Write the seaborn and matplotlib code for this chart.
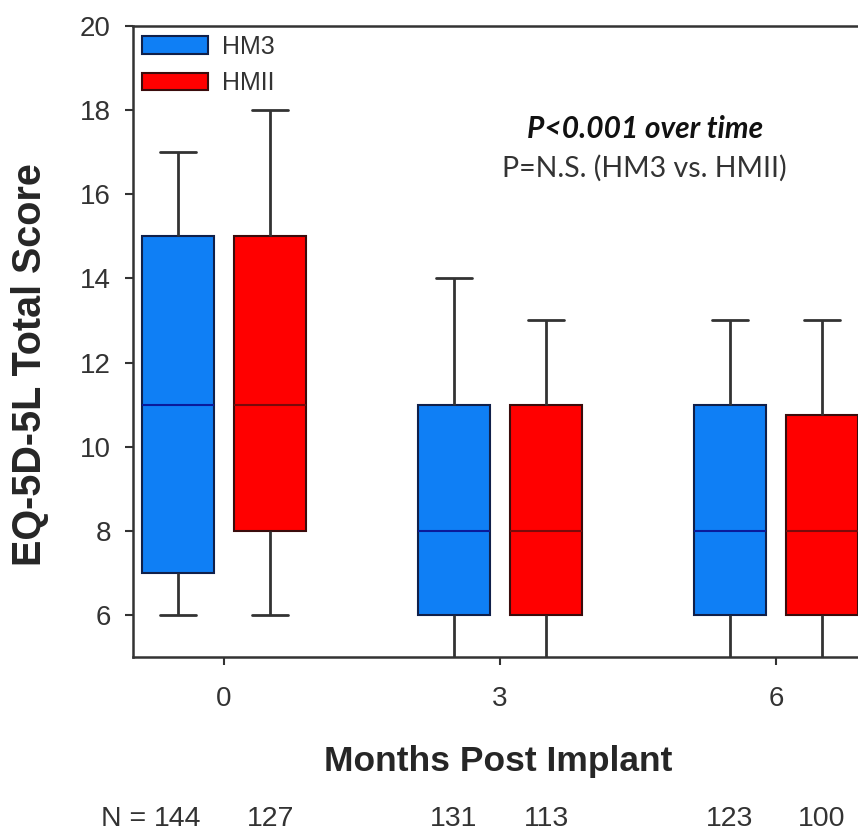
import numpy as np
import pandas as pd
import matplotlib
matplotlib.use("Agg")
import matplotlib.pyplot as plt
import seaborn as sns

# ---- data (five-number summaries) ----
months = ["0", "3", "6"]
devices = ["HM3", "HMII"]
hm3_min = [6, 4, 4]
hm3_q1 = [7, 6, 6]
hm3_med = [11, 8, 8]
hm3_q3 = [15, 11, 11]
hm3_max = [17, 14, 13]
hmii_min = [6, 4, 4]
hmii_q1 = [8, 6, 6]
hmii_med = [11, 8, 8]
hmii_q3 = [15, 11, 10.75]
hmii_max = [18, 13, 13]
n_hm3 = [144, 131, 123]
n_hmii = [127, 113, 100]
yticks = [6, 8, 10, 12, 14, 16, 18, 20]

rows = []
for i, m in enumerate(months):
    for v in (hm3_min[i], hm3_q1[i], hm3_med[i], hm3_q3[i], hm3_max[i]):
        rows.append((m, "HM3", v))
    for v in (hmii_min[i], hmii_q1[i], hmii_med[i], hmii_q3[i], hmii_max[i]):
        rows.append((m, "HMII", v))
df = pd.DataFrame(rows, columns=["month", "device", "score"])

sns.set_theme(style="white")
plt.rcParams["font.family"] = ["Liberation Sans", "DejaVu Sans"]

fig = plt.figure(figsize=(8.58, 8.33), dpi=100)
ax = fig.add_axes([0.155, 0.2113, 0.8555, 0.7575])

palette = {"HM3": "#0F7FF5", "HMII": "#FF0000"}
sns.boxplot(data=df, x="month", y="score", hue="device", order=months,
            hue_order=devices, palette=palette, whis=(0, 100), width=0.667,
            gap=0.22, saturation=1, linewidth=1.5, linecolor="#333333",
            showfliers=False, ax=ax, legend=True)

edge_cols = {"HM3": "#10204a", "HMII": "#3a0c0c"}
med_cols = {"HM3": "#0a1a9a", "HMII": "#7a0a0a"}
for cont, dev in zip(ax.containers, devices):
    for b in cont.boxes:
        b.set_edgecolor(edge_cols[dev])
        b.set_linewidth(1.5)
    for md in cont.medians:
        md.set_color(med_cols[dev])
        md.set_linewidth(1.5)
    for w in list(cont.whiskers) + list(cont.caps):
        w.set_color("#333333")
        w.set_linewidth(2)

ax.set_ylim(5, 20)
ax.set_xlim(-0.33, 2.33)
ax.set_yticks(yticks)
ax.tick_params(axis="both", direction="out", length=6, width=1.5,
               color="#333333", labelsize=20, labelcolor="#333333", pad=10,
               bottom=True, left=True)
ax.tick_params(axis="x", pad=15)
for s in ["left", "bottom", "top", "right"]:
    ax.spines[s].set_color("#333333")
    ax.spines[s].set_linewidth(1.8)

ax.set_xlabel("Months Post Implant", fontsize=25.5, fontweight="bold", va="center")
ax.xaxis.set_label_coords(0.497, -0.166)
ax.set_ylabel("EQ-5D-5L Total Score", fontsize=28.5, fontweight="bold", va="center")
ax.yaxis.set_label_coords(-0.140, 0.464)

leg = ax.legend(loc="upper left", frameon=False, fontsize=18, handlelength=2.64,
                handleheight=0.7, handletextpad=0.56, labelspacing=0.5,
                borderaxespad=0.0, borderpad=0.35, title=None)
for t in leg.get_texts():
    t.set_color("#333333")
for h, dev in zip(leg.legend_handles, devices):
    h.set_edgecolor(edge_cols[dev])

ax.text(0.697, 0.836, "P<0.001 over time", transform=ax.transAxes, ha="center",
        va="center", fontsize=21.5, fontweight="bold", fontstyle="italic",
        family=["Lato", "DejaVu Sans"], color="#111111")
ax.text(0.697, 0.775, "P=N.S. (HM3 vs. HMII)", transform=ax.transAxes, ha="center",
        va="center", fontsize=20.5, family=["Lato", "DejaVu Sans"], color="#333333")

trans = matplotlib.transforms.blended_transform_factory(ax.transData, ax.transAxes)
off = 0.667 / 4
first = None
for i in range(len(months)):
    t1 = ax.text(i - off, -0.256, str(n_hm3[i]), transform=trans, ha="center",
                 va="center", fontsize=20.5, color="#333333", clip_on=False)
    ax.text(i + off, -0.256, str(n_hmii[i]), transform=trans, ha="center",
            va="center", fontsize=20.5, color="#333333", clip_on=False)
    if first is None:
        first = t1
ax.annotate("N = ", xy=(0, 0.5), xycoords=first, ha="right", va="center",
            fontsize=20.5, color="#333333", annotation_clip=False)

fig.savefig("out.png", dpi=100)
